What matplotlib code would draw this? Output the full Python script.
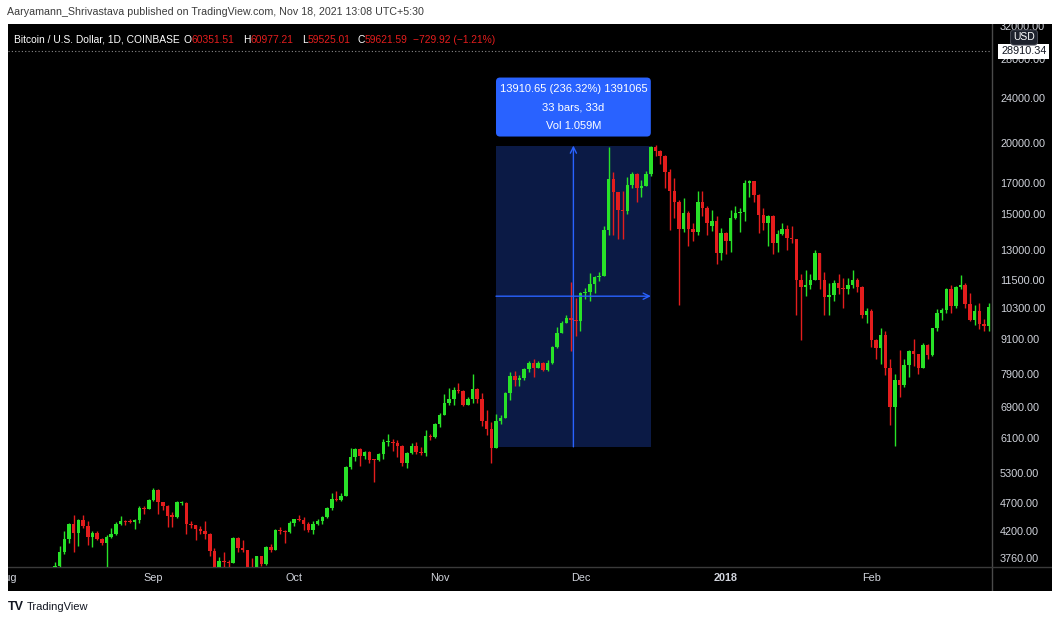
import matplotlib
matplotlib.use('Agg')
import matplotlib.pyplot as plt
import matplotlib.dates as mdates
import matplotlib.transforms as mtrans
import numpy as np
import pandas as pd
from matplotlib.patches import Rectangle, FancyBboxPatch

plt.rcParams['font.family'] = ['Liberation Sans', 'DejaVu Sans']

# daily candles BTC/USD (Coinbase), 8 Aug 2017 -> 26 Feb 2018
first_day = '2017-08-08'
opens = [
    # Aug 8-31
    3378, 3419, 3342, 3420, 3637, 3850, 4060, 4320, 4160, 4380, 4280, 4100, 4160, 4070, 3990, 4100,
    4150, 4320, 4370, 4350, 4345, 4390, 4600, 4585,
    # Sep
    4750, 4950, 4710, 4640, 4480, 4430, 4690, 4700, 4310, 4290, 4230, 4200, 4150, 3870, 3240, 3720,
    3700, 3690, 4080, 3910, 3880, 3610, 3600, 3790, 3670, 3930, 3890, 4210, 4195, 4170,
    # Oct
    4340, 4400, 4385, 4310, 4215, 4320, 4370, 4430, 4610, 4780, 4760, 4830, 5430, 5640, 5830, 5680,
    5760, 5590, 5580, 5710, 6000, 6010, 5990, 5900, 5520, 5740, 5900, 5770, 5750, 6150, 6120,
    # Nov
    6460, 6700, 7010, 7150, 7390, 7370, 6970, 7130, 7440, 7140, 6540, 6330, 5870, 6540, 6610, 7310,
    7820, 7700, 7780, 8040, 8250, 8100, 8240, 8030, 8250, 8800, 9300, 9700, 9870, 9800,
    # Dec
    9780, 10930, 11000, 11360, 11670, 11700, 14100, 17320, 16400, 15270, 15200, 16920, 17640, 16690,
    16850, 17640, 19700, 19400, 18960, 17800, 16480, 15800, 14150, 15100, 14150, 14000, 15800, 15380,
    14300, 14630, 12820,
    # Jan
    13940, 13480, 14790, 15100, 15150, 17000, 17150, 16200, 14960, 14500, 14920, 13380, 13860, 14160,
    13640, 13580, 11540, 11200, 11300, 11540, 12820, 11500, 10740, 10850, 11400, 11140, 11100, 11300,
    11540, 11200, 10010,
    # Feb 1-26
    10160, 9040, 8780, 9250, 8100, 6900, 7700, 7540, 8180, 8650, 8550, 8100, 8860, 8520, 9480, 10090,
    10200, 11130, 10390, 11200, 11300, 10460, 9800, 10160, 9650, 9560,
]
highs = [
    3480, 3430, 3450, 3700, 3950, 4190, 4330, 4480, 4400, 4480, 4360, 4190, 4190, 4080, 4130, 4250,
    4350, 4460, 4380, 4400, 4400, 4640, 4640, 4770,
    4980, 4960, 4720, 4660, 4520, 4740, 4740, 4720, 4360, 4300, 4280, 4370, 4160, 3920, 3780, 3850,
    3740, 4100, 4100, 4050, 3890, 3760, 3800, 3800, 3950, 3980, 4230, 4270, 4220, 4370,
    4410, 4470, 4440, 4350, 4360, 4410, 4460, 4620, 4880, 4920, 4880, 5450, 5850, 5850, 5850, 5790,
    5780, 5600, 5740, 6070, 6190, 6070, 6050, 5920, 5760, 5980, 6000, 5880, 6310, 6200, 6470,
    6750, 7280, 7450, 7500, 7600, 7410, 7200, 7900, 7450, 7310, 6820, 6500, 6730, 6700, 7330, 7960,
    8000, 7870, 8100, 8300, 8370, 8300, 8270, 8340, 8850, 9550, 9750, 9990, 11430, 10700,
    11000, 11150, 11850, 11690, 11900, 14300, 19700, 17800, 16400, 16500, 17460, 17800, 17700, 17200,
    17900, 19750, 19840, 19450, 19050, 18000, 17400, 15900, 16000, 15200, 14500, 16500, 16500, 15500,
    15300, 14900, 14200,
    14000, 15300, 15500, 15400, 17200, 17250, 17150, 16300, 15400, 14950, 14950, 14100, 14500, 14400,
    14300, 13600, 11800, 12000, 11800, 13000, 12850, 11900, 11400, 11500, 11800, 11600, 11600, 12000,
    11600, 11250, 10300,
    10250, 9100, 9500, 9400, 8400, 7900, 8700, 8400, 8700, 9100, 8550, 8950, 8900, 9500, 10250, 10300,
    11150, 11300, 11250, 11750, 11400, 10950, 10400, 10500, 9850, 10500,
]
lows = [
    3360, 3250, 3320, 3400, 3600, 3830, 4000, 3850, 3950, 4250, 3960, 3940, 4040, 3970, 3600, 4080,
    4120, 4290, 4300, 4330, 4230, 4340, 4500, 4580,
    4740, 4500, 4560, 4270, 4270, 4420, 4650, 4150, 4240, 4050, 4140, 4070, 3800, 3200, 2980, 3550,
    3500, 3690, 3850, 3860, 3560, 3500, 3570, 3640, 3660, 3860, 3880, 4140, 4000, 4160,
    4280, 4360, 4220, 4170, 4140, 4300, 4310, 4420, 4560, 4730, 4740, 4820, 5380, 5560, 5450, 5600,
    5510, 5100, 5570, 5610, 5910, 5800, 5650, 5460, 5400, 5720, 5710, 5690, 5670, 6040, 6110,
    6380, 6700, 6960, 6980, 7300, 6930, 6970, 7030, 7030, 6400, 6180, 5520, 5850, 6450, 6610, 7120,
    7530, 7510, 7700, 7960, 7800, 8100, 8000, 8000, 8200, 8750, 9300, 9680, 8660, 9200,
    9400, 10690, 10600, 10950, 11480, 11700, 13800, 13800, 13600, 13600, 15000, 16700, 15800, 16100,
    16800, 17500, 18950, 18400, 16700, 14100, 14800, 10420, 14000, 13200, 13500, 13800, 14900, 13800,
    14050, 12300, 12500,
    12800, 12900, 14700, 14000, 14600, 16100, 15800, 13900, 14100, 13200, 12800, 12900, 13800, 13000,
    13350, 10000, 9040, 10800, 11100, 11500, 11100, 10000, 10000, 10600, 10900, 10300, 10900, 11150,
    11000, 9900, 9700,
    8800, 8400, 8200, 7850, 6420, 5900, 7200, 7500, 7800, 8150, 7900, 8100, 8400, 8500, 9400, 9800,
    10100, 10100, 10300, 11100, 10300, 9750, 9600, 9450, 9400, 9400,
]
closes = [
    3419, 3342, 3420, 3637, 3850, 4060, 4320, 4160, 4380, 4280, 4100, 4160, 4070, 3990, 4100, 4150,
    4320, 4370, 4350, 4345, 4390, 4600, 4585, 4750,
    4950, 4710, 4640, 4450, 4430, 4720, 4700, 4310, 4290, 4230, 4200, 4150, 3870, 3240, 3720, 3700,
    3690, 4080, 3910, 3880, 3610, 3600, 3790, 3670, 3930, 3890, 4210, 4195, 4170, 4340,
    4400, 4385, 4310, 4215, 4320, 4370, 4430, 4610, 4780, 4760, 4830, 5430, 5640, 5830, 5680, 5760,
    5590, 5580, 5710, 6000, 6010, 5990, 5900, 5520, 5740, 5900, 5770, 5750, 6150, 6120, 6460,
    6700, 7010, 7150, 7390, 7370, 6970, 7130, 7440, 7140, 6540, 6330, 5870, 6540, 6610, 7310, 7820,
    7700, 7780, 8040, 8250, 8100, 8240, 8030, 8250, 8800, 9300, 9700, 9870, 9800, 9780,
    10930, 11000, 11360, 11670, 11700, 14100, 17320, 16400, 15270, 15200, 16920, 17640, 16690, 16850,
    17640, 19700, 19400, 18960, 17800, 16480, 15800, 14150, 15100, 14150, 14000, 15800, 15380, 14500,
    14630, 12820, 13940,
    13480, 14790, 15100, 15150, 17000, 17150, 16200, 14960, 14500, 14920, 13380, 13860, 14160, 13640,
    13580, 11540, 11200, 11300, 11540, 12820, 11500, 10740, 10850, 11400, 11140, 11100, 11300, 11540,
    11200, 10010, 10160,
    9040, 8780, 9250, 8100, 6900, 7700, 7540, 8180, 8650, 8550, 8100, 8860, 8520, 9480, 10090, 10200,
    11130, 10390, 11200, 11300, 10460, 9800, 10160, 9650, 9560, 10340,
]

price_ticks = [3760, 4200, 4700, 5300, 6100, 6900, 7900, 9100, 10300, 11500,
               13000, 15000, 17000, 20000, 24000, 28000, 32000]
month_ticks = ['2017-08-01', '2017-09-01', '2017-10-01', '2017-11-01',
               '2017-12-01', '2018-01-01', '2018-02-01']
month_labels = ['Aug', 'Sep', 'Oct', 'Nov', 'Dec', '2018', 'Feb']

last_price = 28910.34
# date range measurement
rng_start, rng_end = '2017-11-13', '2017-12-16'
rng_low, rng_high = 5886.30, 19796.95
rng_change, rng_pct, rng_ticks = 13910.65, 236.32, 1391065
rng_bars, rng_vol = 33, '1.059M'

GREEN = '#28e228'
RED = '#e41d1d'
TXT = '#d1d4dc'
BLUE = '#2962ff'

W, H = 1062, 618
fig = plt.figure(figsize=(W / 100, H / 100), dpi=100, facecolor='white')


def rect(l, t, r, b):
    return [l / W, 1 - b / H, (r - l) / W, (b - t) / H]


bg = fig.add_axes(rect(8, 24, 1052, 591))
bg.set_facecolor('black')
bg.set_xticks([])
bg.set_yticks([])
for s in bg.spines.values():
    s.set_visible(False)
# pane separators
bg.add_line(plt.Line2D([992 / W, 992 / W], [1 - 24 / H, 1 - 591 / H], transform=fig.transFigure,
                       color='#4a4a4a', lw=1))
bg.add_line(plt.Line2D([8 / W, 1052 / W], [1 - 567 / H, 1 - 567 / H], transform=fig.transFigure,
                       color='#3a3a3a', lw=1))

ax = fig.add_axes(rect(8, 24, 991, 567))
ax.set_facecolor('none')
for s in ax.spines.values():
    s.set_visible(False)

o = np.array(opens, float)
h = np.array(highs, float)
l = np.array(lows, float)
c = np.array(closes, float)
x = mdates.date2num(pd.date_range(first_day, periods=len(c)))

ax.set_yscale('log')
ax.set_ylim(3629, 32290)
sep1 = mdates.date2num(pd.Timestamp('2017-09-01'))
ax.set_xlim(sep1 - 30.64, sep1 + 178.5)

# measurement box
x0 = mdates.date2num(pd.Timestamp(rng_start))
x1 = mdates.date2num(pd.Timestamp(rng_end))
ax.add_patch(Rectangle((x0, rng_low), x1 - x0, rng_high - rng_low, fc='#0b1a45', ec='none', zorder=0.5))

col = np.where(c >= o, GREEN, RED)
ax.vlines(x, l, h, colors=col, lw=1, zorder=2)
lo = np.minimum(o, c)
hi = np.maximum(np.maximum(o, c), lo * 1.004)
ax.bar(x, hi - lo, bottom=lo, width=0.75, color=col, linewidth=0, zorder=2)

xm = (x0 + x1) / 2
ym = np.sqrt(rng_low * rng_high)
arrow = dict(arrowstyle='->', color=BLUE, lw=1, shrinkA=0, shrinkB=0, mutation_scale=11)
ax.annotate('', xy=(xm, rng_high), xytext=(xm, rng_low), arrowprops=arrow, zorder=3)
ax.annotate('', xy=(x1, ym), xytext=(x0, ym), arrowprops=arrow, zorder=3)

ax.axhline(last_price, color='#8c8c8c', lw=0.8, ls=(0, (1, 2)), zorder=1)

ax.set_yticks(price_ticks, [f'{p:.2f}' for p in price_ticks])
ax.yaxis.set_minor_locator(matplotlib.ticker.NullLocator())
ax.yaxis.tick_right()
ax.tick_params(axis='y', length=0, pad=6.5, labelsize=7.8, labelcolor=TXT)
ax.set_xticks(mdates.date2num(pd.to_datetime(month_ticks)), month_labels)
ax.tick_params(axis='x', length=0, pad=4.5, labelsize=7.8, labelcolor=TXT)
ax.get_xticklabels()[5].set_fontweight('bold')
for lab in ax.get_xticklabels() + ax.get_yticklabels():
    lab.set_clip_box(bg.bbox)
    lab.set_clip_on(True)

# current price tag + currency
tr = mtrans.blended_transform_factory(ax.transAxes, ax.transData)
ax.text(1 + 10 / 983, last_price, f'{last_price:.2f}', transform=tr, fontsize=7.8, color='#131722',
        va='center', ha='left', clip_on=False, zorder=6,
        bbox=dict(boxstyle='square,pad=0.25', fc='white', ec='none'))
fig.text(1024 / W, 1 - 37.5 / H, 'USD', fontsize=7.5, color='white', ha='center', va='center',
         bbox=dict(boxstyle='round,pad=0.25,rounding_size=0.3', fc='#1e222d', ec='#50535e', lw=0.6))

# range label above the box
px0, pyt = ax.transData.transform((x0, rng_high))
px1, _ = ax.transData.transform((x1, rng_high))
lab_b, lab_h = pyt + 9, 59
fig.add_artist(FancyBboxPatch((px0, lab_b), px1 - px0, lab_h, boxstyle='round,pad=0,rounding_size=4',
                              fc=BLUE, ec='none', transform=mtrans.IdentityTransform()))
lines = [f'{rng_change:.2f} ({rng_pct:.2f}%) {rng_ticks}', f'{rng_bars} bars, {rng_bars}d', f'Vol {rng_vol}']
for i, txt in enumerate(lines):
    fig.text((px0 + px1) / 2, lab_b + lab_h - 11 - i * 18.5, txt, transform=mtrans.IdentityTransform(),
             fontsize=8, color='white', ha='center', va='center')

# header
fig.text(7 / W, 1 - 12 / H, 'Aaryamann_Shrivastava published on TradingView.com, Nov 18, 2021 13:08 UTC+5:30',
         fontsize=7.7, color='#3b3b3b', ha='left', va='center')

legend_parts = [('Bitcoin / U.S. Dollar, 1D, COINBASE', 'white', 0), ('O', 'white', 4), ('60351.51', RED, 0),
                ('H', 'white', 9), ('60977.21', RED, 0), ('L', 'white', 8), ('59525.01', RED, 0),
                ('C', 'white', 7), ('59621.59', RED, 0), ('\u2212729.92 (\u22121.21%)', RED, 5)]
legend_texts = [fig.text(0, 0, t, fontsize=7.4, color=cl, ha='left', va='baseline',
                         transform=mtrans.IdentityTransform()) for t, cl, _ in legend_parts]
renderer = fig.canvas.get_renderer()
xpos, base = 14, H - 43
for t, (_, _, gap) in zip(legend_texts, legend_parts):
    xpos += gap
    t.set_position((xpos, base))
    xpos = t.get_window_extent(renderer).x1

# footer logo
fig.text(8 / W, 1 - 607 / H, 'TV', fontsize=9, fontweight='bold', color='#131722', ha='left', va='center')
fig.text(27 / W, 1 - 607 / H, 'TradingView', fontsize=8, color='#131722', ha='left', va='center')

fig.savefig('out.png', dpi=100, facecolor='white')
